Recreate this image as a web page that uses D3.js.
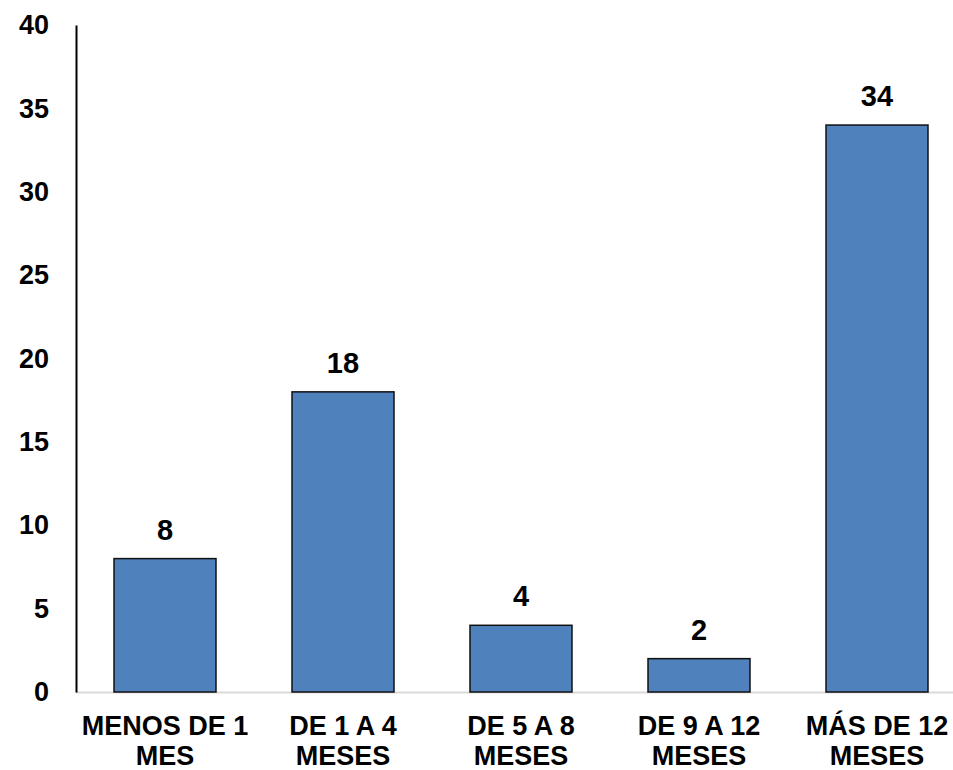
<!DOCTYPE html>
<html><head><meta charset="utf-8">
<script src="https://cdn.jsdelivr.net/npm/d3@7"></script>
<style>body{margin:0;background:#fff}</style>
</head><body>
<svg id="c" width="953" height="770"></svg>
<script>
const categories = [["MENOS DE 1","MES"],["DE 1 A 4","MESES"],["DE 5 A 8","MESES"],["DE 9 A 12","MESES"],["MÁS DE 12","MESES"]];
const values = [8, 18, 4, 2, 34];
const yTicks = [0, 5, 10, 15, 20, 25, 30, 35, 40];

(function () {
const svg = d3.select("#c");
const mLeft = 76, mRight = 966, mTop = 25, mBottom = 692;
const font = "Arial, 'Liberation Sans', sans-serif";

const x = d3.scaleBand().domain(d3.range(categories.length)).range([mLeft, mRight]).paddingInner(0.427).paddingOuter(0.2135);
const y = d3.scaleLinear().domain([0, 40]).range([mBottom, mTop]);

// baseline
svg.append("line").attr("x1", mLeft).attr("x2", 953).attr("y1", mBottom + 0.5).attr("y2", mBottom + 0.5)
  .attr("stroke", "#d9d9d9").attr("stroke-width", 2);

// bars
svg.selectAll("rect.bar").data(values).join("rect")
  .attr("x", (d, i) => x(i)).attr("width", x.bandwidth())
  .attr("y", d => y(d)).attr("height", d => y(0) - y(d))
  .attr("fill", "#4f81bd").attr("stroke", "#111").attr("stroke-width", 1.5);

// y axis
const ya = svg.append("g").attr("transform", `translate(${mLeft},0)`)
  .call(d3.axisLeft(y).tickValues(yTicks).tickSize(0).tickPadding(27));
ya.select(".domain").attr("stroke", "#000").attr("stroke-width", 2);
ya.selectAll("text").attr("font-family", font).attr("font-weight", "bold").attr("font-size", 27).attr("fill", "#000");

// data labels
svg.selectAll("text.val").data(values).join("text")
  .attr("x", (d, i) => x(i) + x.bandwidth() / 2).attr("y", d => y(d) - 19)
  .attr("text-anchor", "middle").attr("font-family", font).attr("font-weight", "bold").attr("font-size", 29)
  .attr("fill", "#000").text(d => d);

// category labels
const cl = svg.selectAll("text.cat").data(categories).join("text")
  .attr("text-anchor", "middle").attr("font-family", font).attr("font-weight", "bold").attr("font-size", 27).attr("fill", "#000");
cl.each(function(d, i) {
  const t = d3.select(this);
  d.forEach((line, j) => {
    t.append("tspan").attr("x", x(i) + x.bandwidth() / 2).attr("y", 735 + j * 30).text(line);
  });
});
})();
</script>
</body></html>
